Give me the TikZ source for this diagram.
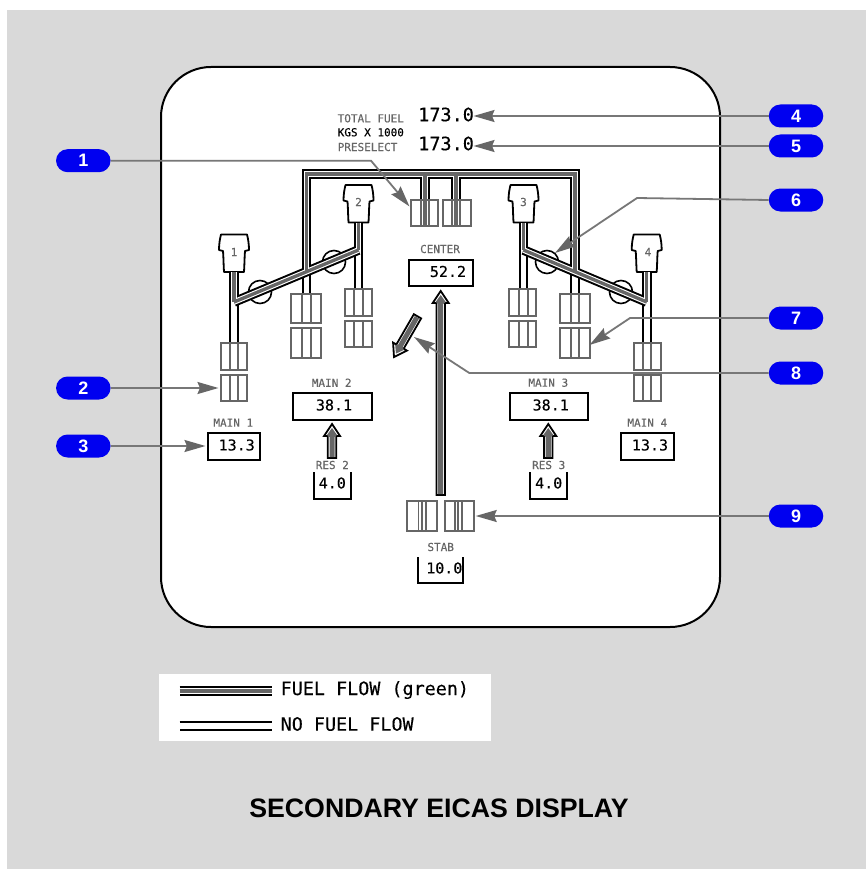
\documentclass[tikz,border=0pt]{standalone}
\usepackage{fontspec}
\setmainfont{Liberation Sans}
\newfontfamily\mono{DejaVu Sans Mono}
\newfontfamily\monob[FakeBold=0.25]{DejaVu Sans Mono}
\usetikzlibrary{arrows.meta,calc}
\definecolor{bggray}{HTML}{D9D9D9}
\definecolor{flowgray}{HTML}{666666}
\definecolor{calloutgray}{HTML}{777777}
\definecolor{pillblue}{HTML}{0000F0}
\tikzset{
  nofuel/.style={draw=black,line width=2pt,double=white,double distance=5.6pt},
  flow/.style={draw=flowgray,line width=3.4pt},
  clearpipe/.style={draw=white,line width=5.6pt},
  tankbox/.style={draw=flowgray,line width=2pt,fill=none,inner sep=0pt,outer sep=0pt},
  tankline/.style={draw=flowgray,line width=1.8pt},
  valve/.style={circle,draw=black,fill=white,line width=1.6pt,minimum size=23pt,inner sep=0pt},
  engine/.style={draw=black,fill=white,line width=1.8pt,line join=round},
  numtext/.style={font=\monob\fontsize{15}{15}\selectfont,text=black,inner sep=0pt},
  bigtext/.style={font=\monob\fontsize{18.5}{18.5}\selectfont,text=black,inner sep=0pt},
  labtext/.style={font=\monob\fontsize{11}{11}\selectfont,text=flowgray,inner sep=0pt},
  legtext/.style={font=\monob\fontsize{18.4}{18.4}\selectfont,text=black,inner sep=0pt,anchor=west},
  valbox/.style={draw=black,line width=2pt,inner sep=0pt,outer sep=0pt},
  openbox/.style={draw=black,line width=2pt,line cap=square},
  pill/.style={fill=pillblue,text=white,font=\bfseries\fontsize{18}{18}\selectfont,rounded corners=11.5pt,minimum width=54.5pt,minimum height=23pt,inner sep=0pt},
  callout/.style={draw=calloutgray,line width=1.8pt,-{Stealth[length=21pt,width=12pt,inset=2.5pt,color=flowgray]}},
  farrow/.style={draw=black,fill=white,line width=1.8pt,line join=miter},
  farrowin/.style={fill=flowgray,draw=none},
}
\newcommand{\tankcell}[8]{% name x1 y1 x2 y2 a b c
  \node[tankbox,minimum width={(#4-#2)*1pt},minimum height={(#5-#3)*1pt}] (#1) at ({(#2+#4)/2},{(#3+#5)/2}) {};
  \foreach \lx in {#6,#7,#8}{\draw[tankline] (\lx,#3) -- (\lx,#5);}
}
\newcommand{\enginepic}[3]{% name cx top
  \begin{scope}[shift={(#2,#3)}]
  \draw[engine] (-10,37.5) .. controls (-10.5,30) and (-10.5,22) .. (-11,16.5) -- (-15,15.5)
   .. controls (-15,9) and (-14,4) .. (-13,0) -- (13,0)
   .. controls (14,4) and (15,9) .. (15,15.5) -- (11,16.5)
   .. controls (10.5,22) and (10.5,30) .. (10,37.5) -- cycle;
  \end{scope}
  \coordinate (#1) at (#2,#3+37.5);
}
\newcommand{\fuelarrow}[5]{% name tipx tipy rot len
  \begin{scope}[shift={(#2,#3)},rotate=#4]
  \draw[farrow] (0,0) -- (8,12) -- (4.2,12) -- (4.2,#5) -- (-4.2,#5) -- (-4.2,12) -- (-8,12) -- cycle;
  \fill[farrowin] (0,4) -- (5,11) -- (2.5,13) -- (2.5,#5-1) -- (-2.5,#5-1) -- (-2.5,13) -- (-5,11) -- cycle;
  \coordinate (#1) at (0,0);
  \end{scope}
}
\newcommand{\valbox}[8]{% name x1 y1 x2 y2 text tx ty
  \node[valbox,minimum width={(#4-#2)*1pt},minimum height={(#5-#3)*1pt}] (#1) at ({(#2+#4)/2},{(#3+#5)/2}) {};
  \node[numtext] (#1t) at (#7,#8) {#6};
}
\begin{document}
\begin{tikzpicture}[x=1pt,y=-1pt]
\useasboundingbox (0,0) rectangle (866,869);
\fill[white] (0,0) rectangle (866,869);
\fill[bggray] (7,10) rectangle (866,869);
\draw[black,line width=2pt,fill=white,rounded corners=50pt] (161,67) rectangle (720,627);

% valves
\node[valve] (v1) at (260,292) {};
\node[valve] (v2) at (334,262) {};
\node[valve] (v3) at (547,262) {};
\node[valve] (v4) at (621,292) {};

% engines
\enginepic{e1}{234}{234.5}
\enginepic{e2}{358.5}{185}
\enginepic{e3}{523.5}{185}
\enginepic{e4}{646.7}{234.5}
\node[labtext] (e1n) at (234,252) {1};
\node[labtext] (e2n) at (358.5,202) {2};
\node[labtext] (e3n) at (523.5,202) {3};
\node[labtext] (e4n) at (648,252) {4};

% pipe junction points
\coordinate (d1) at (234,302);
\coordinate (d2) at (358.5,250);
\coordinate (d3) at (523.5,250);
\coordinate (d4) at (646.7,302);
\coordinate (j1) at (306.3,272);
\coordinate (j2) at (575,272);
\coordinate (tl) at (306.3,174);
\coordinate (tr) at (575,174);
\coordinate (b1) at (425,174);
\coordinate (b2) at (456,174);

% no-flow feeds
\draw[nofuel] (e1) -- (234,342.7) coordinate (f1);
\draw[nofuel] (e2) -- (358.5,289) coordinate (f2);
\draw[nofuel] (e3) -- (523.5,289) coordinate (f3);
\draw[nofuel] (e4) -- (646.7,342.7) coordinate (f4);
\draw[nofuel] (j1) -- (306.3,294) coordinate (f5);
\draw[nofuel] (j2) -- (575,294) coordinate (f6);
% top manifold
\draw[nofuel] (b1) -- (425,200) coordinate (f7);
\draw[nofuel] (b2) -- (456,200) coordinate (f8);
\draw[nofuel] (j1) -- (tl) -- (tr) -- (j2);
\draw[clearpipe] (425,172) -- (425,182);
\draw[clearpipe] (456,172) -- (456,182);
% cross-feed diagonals
\draw[nofuel] (d1) -- (d2);
\draw[nofuel] (d3) -- (d4);
% branch clearing
\draw[clearpipe] (306.3,258) -- (306.3,271);
\draw[clearpipe] (575,258) -- (575,271);
\draw[clearpipe] (234,285) -- (234,301);
\draw[clearpipe] (358.5,235) -- (358.5,249);
\draw[clearpipe] (523.5,235) -- (523.5,249);
\draw[clearpipe] (646.7,285) -- (646.7,301);
% flow lines
\draw[flow] (d1) -- (d2);
\draw[flow] (d3) -- (d4);
\draw[flow,line join=miter] (j1) -- (tl) -- (tr) -- (j2);
\draw[flow] (e1) -- (d1);
\draw[flow] (e2) -- (d2);
\draw[flow] (e3) -- (d3);
\draw[flow] (e4) -- (d4);
\draw[flow] (b1) -- (425,226);
\draw[flow] (b2) -- (456,226);

% tanks
\tankcell{t1u}{220.7}{342.7}{247.3}{370}{230}{238}{238}
\tankcell{t1l}{220.7}{375}{247.3}{401}{230}{238}{238}
\tankcell{t2u}{291}{294}{321}{323}{302}{310.7}{310.7}
\tankcell{t2l}{291}{327.7}{321}{357.7}{302}{310.7}{310.7}
\tankcell{t3u}{345}{289}{372}{316}{354}{363}{363}
\tankcell{t3l}{345}{320.7}{372}{346.7}{354}{363}{363}
\tankcell{t4u}{509}{289}{536}{316}{519.3}{528}{528}
\tankcell{t4l}{509}{320.7}{536}{346.7}{519.3}{528}{528}
\tankcell{t5u}{560}{294}{590}{323}{571}{579}{579}
\tankcell{t5l}{560}{327.7}{590}{357.7}{571}{579}{579}
\tankcell{t6u}{634}{342.7}{660.7}{370}{642.7}{650.7}{650.7}
\tankcell{t6l}{634}{375}{660.7}{401}{642.7}{650.7}{650.7}
\tankcell{c1}{410.7}{200}{438}{226}{421}{425}{429}
\tankcell{c2}{442.7}{200}{470.7}{226}{452}{456}{460}
\tankcell{s1}{406.7}{501}{436.7}{531}{418.5}{421.7}{426}
\tankcell{s2}{444.7}{501}{474.3}{531}{455}{458}{461.7}

% flow arrows
\fuelarrow{a1}{440.7}{291}{0}{204}
\fuelarrow{a2}{332}{424}{0}{34}
\fuelarrow{a3}{548.3}{424}{0}{34}
\fuelarrow{a4}{394}{357}{150}{47}

% values
\valbox{bc}{409}{259.5}{472.7}{285.7}{52.2}{448}{271.5}
\valbox{bm2}{292.7}{393}{372.3}{420}{38.1}{334}{405}
\valbox{bm1}{207.7}{433}{260.3}{460}{13.3}{236.7}{445}
\valbox{bm3}{510}{393}{588}{420}{38.1}{550.7}{405}
\valbox{bm4}{621}{433}{674.3}{460}{13.3}{650}{445}
\draw[openbox] (314,472) -- (314,499) -- (351.3,499) -- (351.3,472);
\node[numtext] (r2) at (332.3,483) {4.0};
\draw[openbox] (530,472) -- (530,499) -- (567.3,499) -- (567.3,472);
\node[numtext] (r3) at (548.7,483) {4.0};
\draw[openbox] (417.7,557) -- (417.7,583) -- (463.3,583) -- (463.3,557);
\node[numtext] (st) at (444.3,568) {10.0};

% labels
\node[labtext] (lcen) at (440,249) {CENTER};
\node[labtext] (lm2) at (331.7,382.7) {MAIN 2};
\node[labtext] (lm1) at (233.3,422.7) {MAIN 1};
\node[labtext] (lm3) at (548.3,382.7) {MAIN 3};
\node[labtext] (lm4) at (647.3,422.7) {MAIN 4};
\node[labtext] (lr2) at (332.3,465) {RES 2};
\node[labtext] (lr3) at (548.7,465) {RES 3};
\node[labtext] (lst) at (440.7,547) {STAB};
\node[labtext,anchor=west] (ltf) at (337.5,118.3) {TOTAL FUEL};
\node[labtext,text=black,anchor=west] (lkg) at (337.5,132.3) {KGS X 1000};
\node[labtext,anchor=west] (lps) at (337.5,147) {PRESELECT};
\node[bigtext,anchor=west] (n4) at (418,114.5) {173.0};
\node[bigtext,anchor=west] (n5) at (418,143.5) {173.0};

% callouts
\node[pill] (p1) at (83.3,160.7) {1};
\node[pill] (p2) at (83.3,388) {2};
\node[pill] (p3) at (83.3,446) {3};
\node[pill] (p4) at (796,116) {4};
\node[pill] (p5) at (796,146) {5};
\node[pill] (p6) at (796,200) {6};
\node[pill] (p7) at (796,318) {7};
\node[pill] (p8) at (796,373) {8};
\node[pill] (p9) at (796,516) {9};
\coordinate (k1) at (371,160.7);
\coordinate (k6) at (637,198);
\coordinate (k7) at (630,318);
\coordinate (k8) at (469.3,373);
\coordinate (q1) at (409.5,206.5);
\coordinate (q2) at (218.5,388);
\coordinate (q3) at (205.5,446);
\coordinate (q4) at (473.5,116);
\coordinate (q5) at (473.5,146);
\coordinate (q6) at (555,253);
\coordinate (q7) at (589.5,345);
\coordinate (q8) at (414,337);
\coordinate (q9) at (475.7,516);
\draw[callout] (p1.east) -- (k1) -- (q1);
\draw[callout] (p2.east) -- (q2);
\draw[callout] (p3.east) -- (q3);
\draw[callout] (p4.west) -- (q4);
\draw[callout] (p5.west) -- (q5);
\draw[callout] (p6.west) -- (k6) -- (q6);
\draw[callout] (p7.west) -- (k7) -- (q7);
\draw[callout] (p8.west) -- (k8) -- (q8);
\draw[callout] (p9.west) -- (q9);

% legend
\fill[white] (159,674) rectangle (491,741);
\coordinate (g1a) at (179.5,691);
\coordinate (g1b) at (272,691);
\coordinate (g2a) at (179.5,726);
\coordinate (g2b) at (272,726);
\draw[nofuel] (g1a) -- (g1b);
\draw[flow] (g1a) -- (g1b);
\draw[nofuel] (g2a) -- (g2b);
\node[legtext] (g1t) at (280.5,690) {FUEL FLOW (green)};
\node[legtext] (g2t) at (280.5,724) {NO FUEL FLOW};

% title
\node[font=\bfseries\fontsize{26.7}{26.7}\selectfont,text=black,inner sep=0pt] (title) at (439,808) {SECONDARY EICAS DISPLAY};
\end{tikzpicture}
\end{document}
